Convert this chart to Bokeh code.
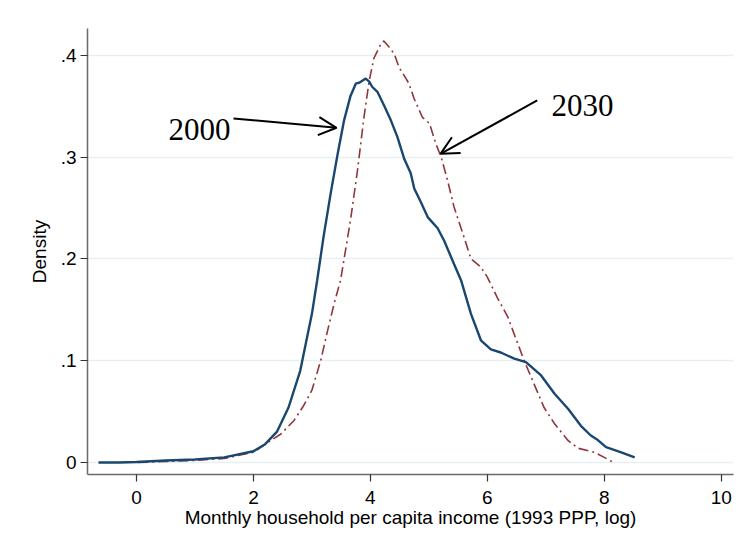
from bokeh.plotting import figure
from bokeh.models import Range1d, FixedTicker, Arrow, OpenHead, Label
from bokeh.embed import file_html
from bokeh.resources import INLINE

# ---- data ----
x_2000 = [-0.65, -0.3, 0.0, 0.5, 1.0, 1.5, 2.0, 2.2, 2.4, 2.6, 2.8, 3.0, 3.09, 3.2, 3.32, 3.44,
          3.55, 3.66, 3.75, 3.81, 3.92, 3.98, 4.03, 4.12, 4.23, 4.35, 4.46, 4.58, 4.69, 4.75,
          4.86, 4.98, 5.15, 5.26, 5.43, 5.55, 5.72, 5.89, 6.06, 6.23, 6.46, 6.66, 6.92, 7.15,
          7.38, 7.60, 7.77, 7.89, 8.03, 8.29, 8.52]
y_2000 = [0.0, 0.0, 0.0005, 0.002, 0.003, 0.005, 0.011, 0.018, 0.030, 0.054, 0.090, 0.146, 0.179,
          0.222, 0.264, 0.303, 0.336, 0.360, 0.372, 0.373, 0.377, 0.374, 0.369, 0.364, 0.351,
          0.336, 0.320, 0.298, 0.284, 0.269, 0.256, 0.241, 0.230, 0.218, 0.195, 0.179, 0.146,
          0.120, 0.111, 0.108, 0.102, 0.0985, 0.0855, 0.0675, 0.0527, 0.036, 0.0265, 0.022,
          0.015, 0.010, 0.005]

x_2030 = [0.03, 0.5, 1.0, 1.5, 2.0, 2.2, 2.47, 2.69, 2.86, 3.0, 3.15, 3.27, 3.38, 3.49, 3.66,
          3.78, 3.89, 3.98, 4.06, 4.18, 4.23, 4.32, 4.41, 4.49, 4.61, 4.66, 4.75, 4.89, 5.01,
          5.12, 5.21, 5.32, 5.43, 5.58, 5.72, 5.89, 6.0, 6.17, 6.35, 6.46, 6.63, 6.80, 6.97,
          7.15, 7.38, 7.55, 7.83, 8.0, 8.15]
y_2030 = [0.0, 0.001, 0.002, 0.004, 0.010, 0.018, 0.028, 0.041, 0.056, 0.071, 0.100, 0.130,
          0.156, 0.179, 0.238, 0.287, 0.339, 0.375, 0.397, 0.411, 0.414, 0.408, 0.401, 0.388,
          0.377, 0.372, 0.357, 0.339, 0.333, 0.313, 0.300, 0.277, 0.251, 0.225, 0.200, 0.192,
          0.182, 0.162, 0.143, 0.126, 0.100, 0.077, 0.054, 0.038, 0.0216, 0.014, 0.010, 0.005,
          0.0003]

x_ticks = [0, 2, 4, 6, 8, 10]
y_ticks = [0, 0.1, 0.2, 0.3, 0.4]
y_tick_labels = ["0", ".1", ".2", ".3", ".4"]

x_title = "Monthly household per capita income (1993 PPP, log)"
y_title = "Density"

# ---- figure ----
p = figure(width=743, height=544, output_backend="svg", toolbar_location=None,
           x_range=Range1d(-0.838, 10.21), y_range=Range1d(-0.0118, 0.4262),
           min_border_left=87, min_border_right=10, min_border_top=28, min_border_bottom=70)
p.outline_line_color = None
p.background_fill_color = "white"
p.border_fill_color = "white"

SANS = "Liberation Sans"
for ax in (p.xaxis[0], p.yaxis[0]):
    ax.axis_line_color = "#6a6a6a"
    ax.axis_line_width = 1.5
    ax.major_tick_line_color = "#333333"
    ax.major_tick_line_width = 1.2
    ax.major_tick_out = 7
    ax.major_tick_in = 0
    ax.minor_tick_line_color = None
    ax.major_label_text_font = SANS
    ax.major_label_text_font_size = "19px"
    ax.major_label_text_color = "black"
    ax.axis_label_text_font = SANS
    ax.axis_label_text_font_size = "19px"
    ax.axis_label_text_font_style = "normal"
    ax.axis_label_text_color = "black"

p.xaxis.ticker = FixedTicker(ticks=x_ticks)
p.yaxis.ticker = FixedTicker(ticks=y_ticks)
p.yaxis.major_label_overrides = {t: l for t, l in zip(y_ticks, y_tick_labels)}
p.yaxis.major_label_orientation = "horizontal"
p.xaxis.axis_label = x_title
p.yaxis.axis_label = y_title
p.xaxis.major_label_standoff = 9
p.yaxis.major_label_standoff = 4
p.xaxis.axis_label_standoff = 0
p.yaxis.axis_label_standoff = 8

p.xgrid.grid_line_color = None
p.ygrid.grid_line_color = "#e6eff2"
p.ygrid.grid_line_width = 1.5

p.line(x_2030, y_2030, line_color="#90353b", line_width=1.6, line_dash="10 4 2 4")
p.line(x_2000, y_2000, line_color="#1a476f", line_width=2.4)

SERIF = "Liberation Serif"
p.add_layout(Label(x=1.608, y=0.3267, text="2000", text_align="right", text_baseline="alphabetic",
                   text_font=SERIF, text_font_size="31px", text_color="black"))
p.add_layout(Label(x=7.098, y=0.3506, text="2030", text_align="left", text_baseline="alphabetic",
                   text_font=SERIF, text_font_size="31px", text_color="black"))

p.add_layout(Arrow(x_start=1.659, y_start=0.3378, x_end=3.421, y_end=0.3287,
                   line_color="black", line_width=2,
                   end=OpenHead(size=18, line_color="black", line_width=2)))
p.add_layout(Arrow(x_start=6.853, y_start=0.3555, x_end=5.199, y_end=0.3031,
                   line_color="black", line_width=2,
                   end=OpenHead(size=18, line_color="black", line_width=2)))

open("out.html", "w").write(file_html(p, INLINE))
